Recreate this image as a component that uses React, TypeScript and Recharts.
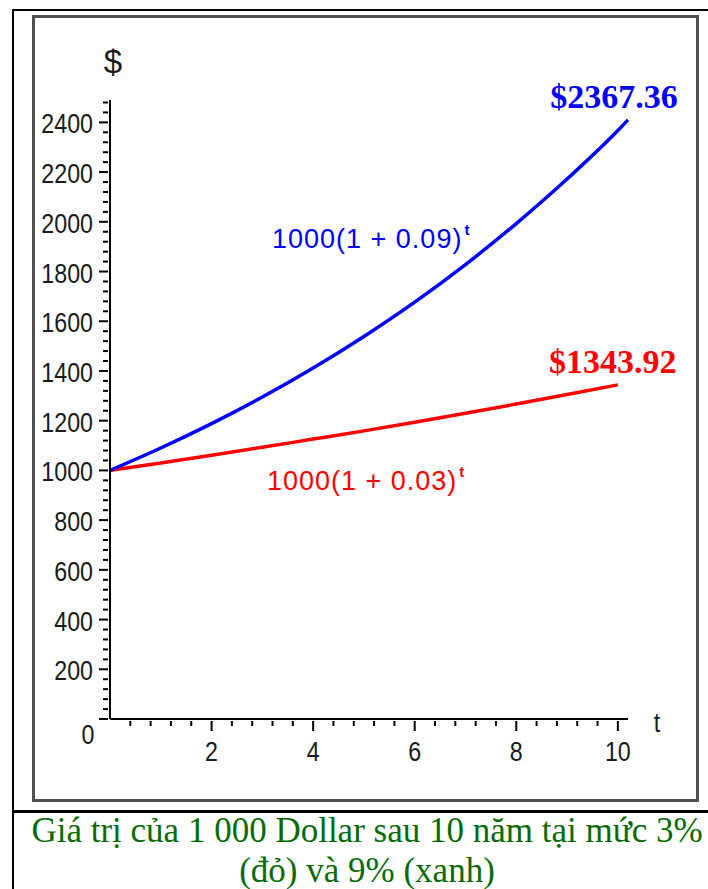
import { LineChart, Line, XAxis, YAxis, ReferenceDot } from 'recharts';

// values
const years9 = [0, 1, 2, 3, 4, 5, 6, 7, 8, 9, 10, 10.2];
const values9 = [1000, 1090, 1188, 1295, 1412, 1539, 1677, 1828, 1993, 2172, 2367, 2410];
const years3 = [0, 1, 2, 3, 4, 5, 6, 7, 8, 9, 10];
const values3 = [1000, 1030, 1061, 1093, 1126, 1159, 1194, 1230, 1267, 1305, 1344];

const xMajorTicks = [2, 4, 6, 8, 10];
const yMajorTicks = [0, 200, 400, 600, 800, 1000, 1200, 1400, 1600, 1800, 2000, 2200, 2400];

const endLabel9 = '$2367.36';
const endLabel3 = '$1343.92';
const formula9 = '1000(1 + 0.09)';
const formula3 = '1000(1 + 0.03)';
const captionLines = ['Giá trị của 1 000 Dollar sau 10 năm tại mức 3%', '(đỏ) và 9% (xanh)'];

const blueData = years9.map((t, i) => ({ t, v: values9[i] }));
const redData = years3.map((t, i) => ({ t, v: values3[i] }));

// minor ticks every 0.4 on t, every 40 on $
const xTicks = Array.from({ length: 25 }, (_, i) => +(0.4 * (i + 1)).toFixed(1));
const yTicks = Array.from({ length: 63 }, (_, i) => i * 40);

const BLUE = '#0000ff';
const RED = '#ff0000';
const tickFont = "'Liberation Sans', Arial, sans-serif";
const formulaFont = "'Liberation Sans', Arial, sans-serif";
const serifFont = "'Liberation Serif', 'Times New Roman', serif";

// maple-style narrow digits: squeeze the glyphs horizontally
function TickText({ x, y, anchor, children }: any) {
  return (
    <g transform={`translate(${x},${y}) scale(0.83,1)`}>
      <text x={0} y={0} textAnchor={anchor} fontFamily={tickFont} fontSize={28} fill="#1a1a1a">
        {children}
      </text>
    </g>
  );
}

function XTick(props: any) {
  const { x, y, payload } = props;
  const major = xMajorTicks.includes(payload.value);
  return (
    <g>
      <line x1={x} x2={x} y1={y} y2={y + (major ? 10 : 5)} stroke="#000" strokeWidth={2} />
      {major && (
        <TickText x={x} y={y + 40} anchor="middle">
          {payload.value}
        </TickText>
      )}
    </g>
  );
}

function YTick(props: any) {
  const { x, y, payload } = props;
  const major = yMajorTicks.includes(payload.value);
  const zero = payload.value === 0;
  return (
    <g>
      <line x1={x - (major ? 9 : 5)} x2={x} y1={y} y2={y} stroke="#000" strokeWidth={2} />
      {major && (
        <TickText x={zero ? x - 20 : x - 15} y={zero ? y + 25 : y + 11} anchor={zero ? 'middle' : 'end'}>
          {payload.value}
        </TickText>
      )}
    </g>
  );
}

const endText = (label: string, color: string, dx: number) => (p: any) => (
  <text
    x={p.cx + dx}
    y={p.cy - 12}
    textAnchor="middle"
    fontFamily={serifFont}
    fontWeight="bold"
    fontSize={34}
    fill={color}
  >
    {label}
  </text>
);

const formulaText = (label: string, color: string) => (p: any) => (
  <text x={p.cx} y={p.cy} fontFamily={formulaFont} fontSize={27} letterSpacing={1} fill={color}>
    {label}
    <tspan fontSize={15} fontWeight="bold" dy={-13} dx={2}>
      t
    </tspan>
  </text>
);

export default function App() {
  return (
    <div style={{ position: 'absolute', left: 0, top: 0, width: 708, height: 889, background: '#fff' }}>
      <div style={{ position: 'absolute', left: 12, top: 9, width: 696, height: 2, background: '#000' }} />
      <div style={{ position: 'absolute', left: 12, top: 9, width: 2, height: 880, background: '#000' }} />
      <div style={{ position: 'absolute', left: 12, top: 810, width: 696, height: 3, background: '#000' }} />
      <div
        style={{
          position: 'absolute',
          left: 32,
          top: 15,
          width: 667,
          height: 787,
          border: '3px solid #505050',
          boxSizing: 'border-box',
        }}
      />
      <div style={{ position: 'absolute', left: 0, top: 0 }}>
        <LineChart width={708} height={889} margin={{ top: 100, right: 80, bottom: 120, left: 60 }}>
          <XAxis
            type="number"
            dataKey="t"
            domain={[0, 10.2]}
            ticks={xTicks}
            interval={0}
            tickSize={0}
            tickLine={false}
            axisLine={{ stroke: '#000', strokeWidth: 2 }}
            height={50}
            tick={XTick}
            label={{
              content: (p: any) => (
                <TickText x={p.viewBox.x + p.viewBox.width + 29} y={p.viewBox.y + 13} anchor="middle">
                  t
                </TickText>
              ),
            }}
          />
          <YAxis
            type="number"
            dataKey="v"
            domain={[0, 2490]}
            ticks={yTicks}
            interval={0}
            tickSize={0}
            tickLine={false}
            axisLine={{ stroke: '#000', strokeWidth: 2 }}
            width={50}
            tick={YTick}
            label={{
              content: (p: any) => (
                <text
                  x={p.viewBox.x + p.viewBox.width + 3}
                  y={p.viewBox.y - 27}
                  textAnchor="middle"
                  fontFamily={tickFont}
                  fontSize={33}
                  fill="#1a1a1a"
                >
                  $
                </text>
              ),
            }}
          />
          <Line
            data={redData}
            dataKey="v"
            type="monotone"
            stroke={RED}
            strokeWidth={3.5}
            dot={false}
            isAnimationActive={false}
          />
          <Line
            data={blueData}
            dataKey="v"
            type="monotone"
            stroke={BLUE}
            strokeWidth={3.5}
            dot={false}
            isAnimationActive={false}
          />
          <ReferenceDot
            x={years9[years9.length - 1]}
            y={values9[values9.length - 1]}
            shape={endText(endLabel9, BLUE, -14)}
          />
          <ReferenceDot
            x={years3[years3.length - 1]}
            y={values3[values3.length - 1]}
            shape={endText(endLabel3, RED, -5)}
          />
          <ReferenceDot x={3.19} y={1895} shape={formulaText(formula9, BLUE)} />
          <ReferenceDot x={3.09} y={921} shape={formulaText(formula3, RED)} />
        </LineChart>
      </div>
      <div
        style={{
          position: 'absolute',
          left: 26,
          top: 811,
          width: 682,
          textAlign: 'center',
          fontFamily: serifFont,
          fontSize: 35,
          lineHeight: '40px',
          color: '#066b06',
          whiteSpace: 'nowrap',
        }}
      >
        {captionLines.map((line) => (
          <div key={line}>{line}</div>
        ))}
      </div>
    </div>
  );
}
